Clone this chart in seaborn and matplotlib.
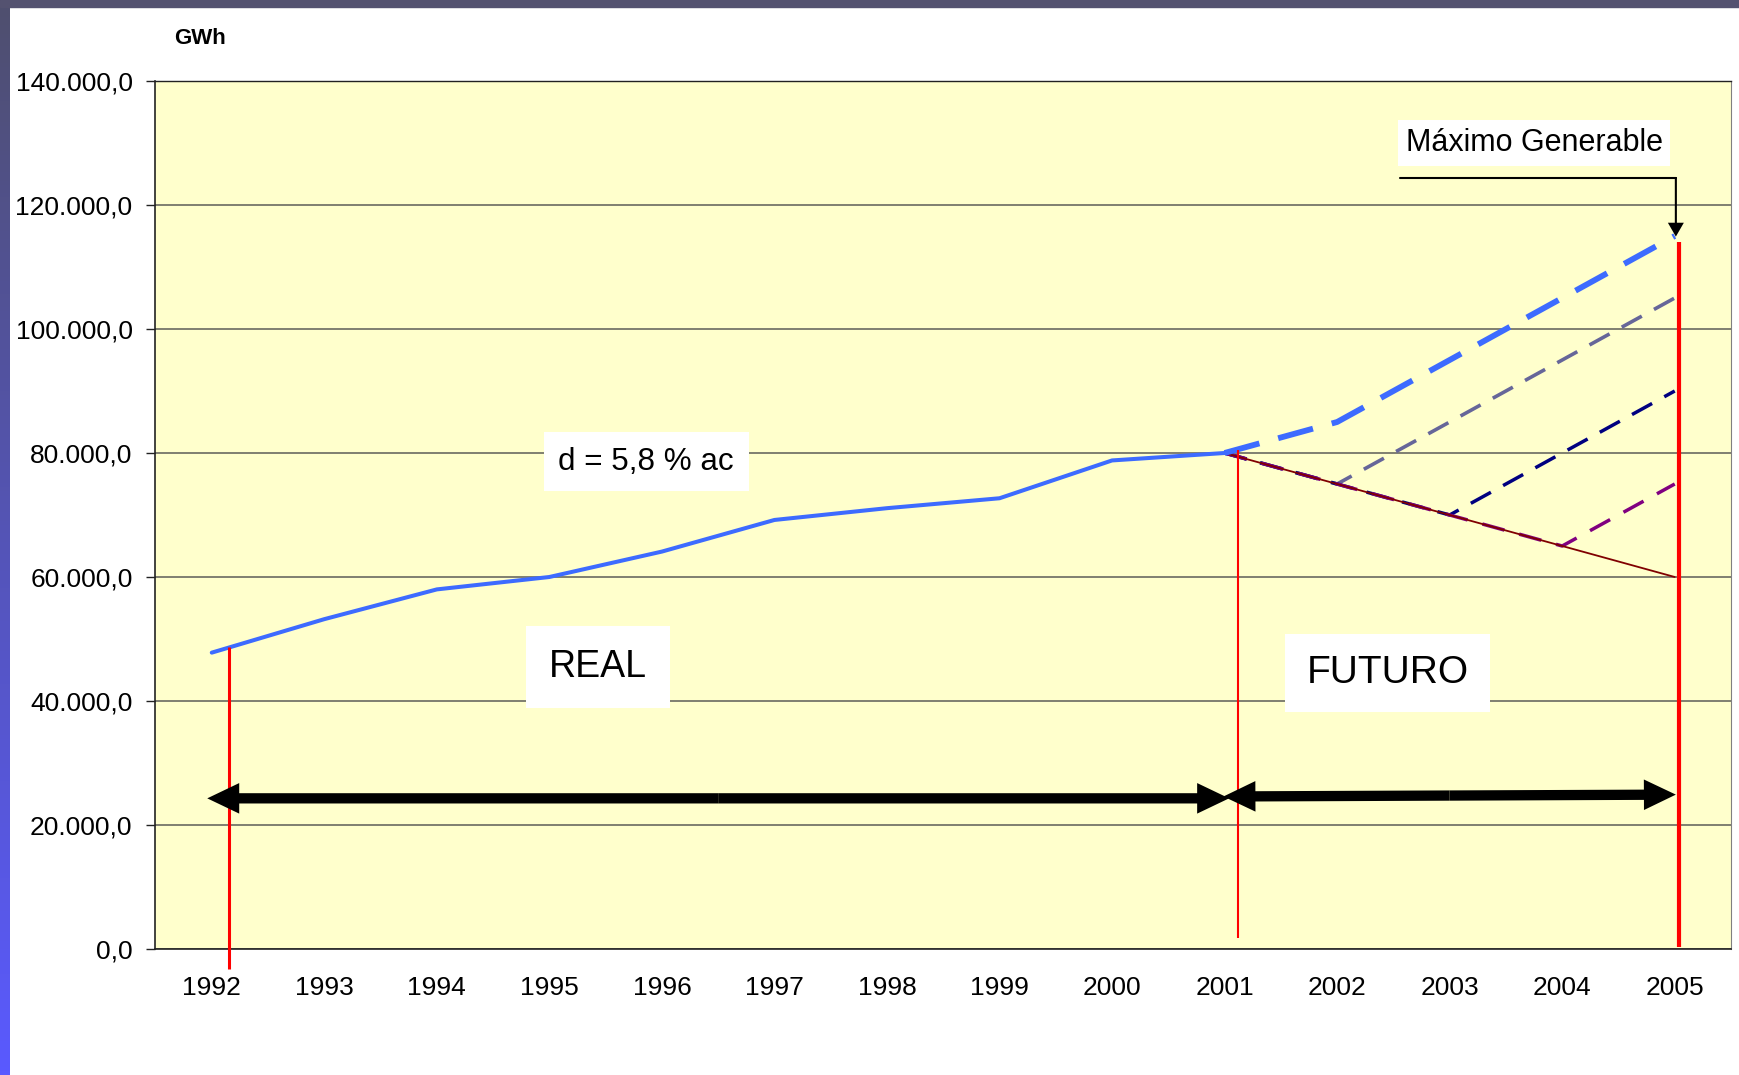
import numpy as np
import pandas as pd
import matplotlib
matplotlib.use("Agg")
import matplotlib.pyplot as plt
import seaborn as sns
from matplotlib.colors import LinearSegmentedColormap
from matplotlib.patches import Rectangle
from matplotlib.ticker import FuncFormatter

# --- data (GWh) ---
years = list(range(1992, 2006))
real_years = list(range(1992, 2002))
real_gwh = [47800, 53200, 58000, 60000, 64100, 69200, 71100, 72700, 78800, 80000]

fut_years = [2001, 2002, 2003, 2004, 2005]
max_gen = [80000, 85000, 95000, 105000, 115000]
scen_gray = [80000, 75000, 85000, 95000, 105000]
scen_navy = [80000, 75000, 70000, 80000, 90000]
scen_purple = [80000, 75000, 70000, 65000, 75000]
min_line = [80000, 75000, 70000, 65000, 60000]

# red vertical markers
red_x = [1992.15, 2001.12, 2005.04]
red_top = [48700, 80500, 114000]
red_bottom = [-3200, 1800, 300]

# double arrows (REAL / FUTURO spans)
real_span = [1991.96, 2001.04]
real_span_y = [24300, 24300]
fut_span = [2000.99, 2005.01]
fut_span_y = [24600, 24900]

sns.set_style("white")
plt.rcParams['font.family'] = ['Liberation Sans', 'DejaVu Sans']
plt.rcParams['text.color'] = 'black'
plt.rcParams['xtick.color'] = 'black'
plt.rcParams['ytick.color'] = 'black'
plt.rcParams['lines.scale_dashes'] = False

fig = plt.figure(figsize=(17.4, 10.75), dpi=100)

# slide decoration: top band + left gradient strip
fig.add_artist(Rectangle((0, 1 - 7 / 1075), 1, 7 / 1075, transform=fig.transFigure,
                         color='#545270', zorder=5))
strip = fig.add_axes([0, 0, 10 / 1740, 1])
cmap = LinearSegmentedColormap.from_list('strip', ['#5a5aff', '#4f4f6e'])
strip.imshow(np.linspace(0, 1, 256)[:, None], aspect='auto', cmap=cmap, origin='lower')
strip.axis('off')

ax = fig.add_axes([155.5 / 1740, 126 / 1075, (1731 - 155.5) / 1740, (949 - 81) / 1075])
ax.set_facecolor('#FFFFCC')
ax.set_axisbelow(True)
ax.yaxis.grid(True, color='#7f7f70', lw=1.4)

# scenario lines
sns.lineplot(x=fut_years, y=scen_gray, ax=ax, color='#666699', lw=2.6)
ax.lines[-1].set_dashes([16.5, 10])
sns.lineplot(x=fut_years, y=scen_navy, ax=ax, color='#000080', lw=2.5)
ax.lines[-1].set_dashes([16.5, 10])
sns.lineplot(x=fut_years, y=scen_purple, ax=ax, color='#800080', lw=2.5)
ax.lines[-1].set_dashes([16.5, 11])
sns.lineplot(x=fut_years, y=min_line, ax=ax, color='#800000', lw=1.3)
sns.lineplot(x=fut_years, y=max_gen, ax=ax, color='#3D6BFF', lw=4.2)
ax.lines[-1].set_dashes([26, 14])
sns.lineplot(x=real_years, y=real_gwh, ax=ax, color='#3D6BFF', lw=2.9)

# red verticals
ax.vlines(red_x, red_bottom, red_top, colors='#FF0000', lw=[2.2, 1.5, 3.0],
          clip_on=False, zorder=6)

# double arrows drawn as two 'simple' arrows from the midpoint
arrow_style = 'simple,head_length=2.3,head_width=2.2,tail_width=0.74'
for xs, ys in [(real_span, real_span_y), (fut_span, fut_span_y)]:
    mx, my = np.mean(xs), np.mean(ys)
    for px, py in zip(xs, ys):
        ax.annotate('', xy=(px, py), xytext=(mx, my),
                    arrowprops=dict(arrowstyle=arrow_style, mutation_scale=10,
                                    fc='black', ec='none', shrinkA=0, shrinkB=0),
                    zorder=7)

# "Máximo Generable" call-out
ax.plot([2002.56, 2005.01], [124400, 124400], color='black', lw=1.5, zorder=7)
ax.annotate('', xy=(2005.01, 114900), xytext=(2005.01, 124500),
            arrowprops=dict(arrowstyle='simple,head_length=1.0,head_width=1.15,tail_width=0.15',
                            mutation_scale=10, fc='black', ec='none', shrinkA=0, shrinkB=0),
            zorder=7)

box = lambda p: dict(boxstyle='square,pad=%s' % p, fc='white', ec='none')
ax.text(2003.75, 130000, 'Máximo Generable', fontsize=22, ha='center', va='center',
        bbox=box(0.25), zorder=8)
ax.text(1995.86, 78600, 'd = 5,8 % ac', fontsize=22.6, ha='center', va='center',
        bbox=box(0.47), zorder=8)
ax.text(1995.43, 45500, 'REAL', fontsize=27, ha='center', va='center',
        bbox=box(0.62), zorder=8)
ax.text(2002.45, 44500, 'FUTURO', fontsize=28, ha='center', va='center',
        bbox=box(0.55), zorder=8)

# axes
ax.set_xlim(1991.5, 2005.5)
ax.set_ylim(0, 140000)
ax.set_xticks(years)
ax.set_xticklabels([str(y) for y in years])
ax.set_xticks(np.arange(1991.5, 2006, 1), minor=True)
ax.set_yticks(np.arange(0, 140001, 20000))
ax.yaxis.set_major_formatter(FuncFormatter(
    lambda v, p: f"{v:,.1f}".replace(',', 'X').replace('.', ',').replace('X', '.')))
ax.tick_params(axis='x', which='major', length=0, pad=19.5, labelsize=19)
ax.tick_params(axis='x', which='minor', length=6.5, width=1, direction='out', color='#222222')
ax.tick_params(axis='y', length=6.5, width=1, direction='out', pad=10, labelsize=19,
               color='#222222', left=True)
ax.set_xlabel('')
ax.set_ylabel('')
for s in ['left', 'bottom']:
    ax.spines[s].set_color('#222222')
    ax.spines[s].set_linewidth(1.2)
ax.spines['top'].set_color('#222222')
ax.spines['top'].set_linewidth(1.0)
ax.spines['right'].set_color('#808080')
ax.spines['right'].set_linewidth(0.8)

fig.text(200 / 1740, 1 - 39 / 1075, 'GWh', ha='center', va='center',
         fontsize=16, fontweight='bold')

fig.savefig('out.png', dpi=100)
